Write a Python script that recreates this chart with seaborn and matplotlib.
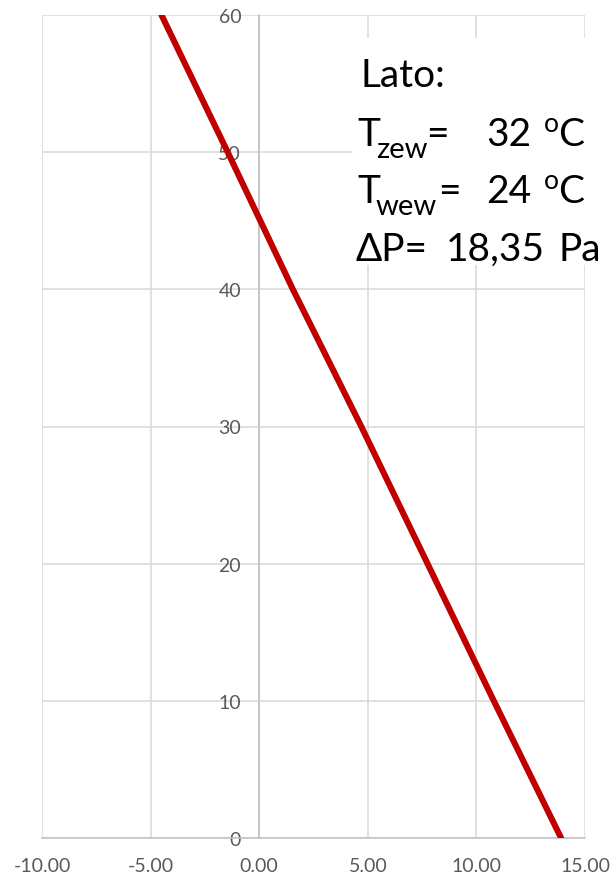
import matplotlib
matplotlib.use("Agg")
import matplotlib.pyplot as plt
from matplotlib.patches import Rectangle
import seaborn as sns
import pandas as pd

# ---- data ----
height_m = [0, 10, 20, 30, 40, 50, 60]
pressure_pa = [13.90, 10.80, 7.75, 4.70, 1.55, -1.45, -4.50]
x_ticks = [-10, -5, 0, 5, 10, 15]
x_tick_labels = ["-10.00", "-5.00", "0.00", "5.00", "10.00", "15.00"]
y_ticks = [0, 10, 20, 30, 40, 50, 60]
season_label = "Lato:"
t_out = "32"
t_in = "24"
delta_p = "18,35"

sns.set_style("white")
plt.rcParams["font.family"] = ["Lato", "DejaVu Sans"]

df = pd.DataFrame({"x": pressure_pa, "y": height_m})

fig = plt.figure(figsize=(6.13, 8.79), dpi=100)
ax = fig.add_axes([42 / 613, 40 / 879, (585 - 42) / 613, (839 - 16) / 879])

sns.lineplot(data=df, x="x", y="y", sort=False, estimator=None,
             color="#c00000", linewidth=4.4, ax=ax, zorder=5)

ax.set_xlim(-10, 15)
ax.set_ylim(0, 60)
ax.set_xticks(x_ticks)
ax.set_xticklabels(x_tick_labels)
ax.set_yticks(y_ticks)
ax.set_xlabel("")
ax.set_ylabel("")

ax.grid(True, color="#d9d9d9", linewidth=1.1)
ax.set_axisbelow(True)

for s in ["top", "right"]:
    ax.spines[s].set_visible(False)
ax.spines["left"].set_position(("data", 0))
ax.spines["left"].set_color("#bfbfbf")
ax.spines["left"].set_linewidth(1.1)
ax.spines["bottom"].set_color("#bfbfbf")
ax.spines["bottom"].set_linewidth(1.1)

ax.tick_params(axis="both", length=0, colors="#595959", labelsize=14)
ax.tick_params(axis="x", pad=14)
ax.tick_params(axis="y", pad=13)

# white text box covering gridlines
fig.patches.append(Rectangle((352 / 613, 1 - 266 / 879), (613 - 352) / 613,
                             (266 - 39) / 879, transform=fig.transFigure,
                             facecolor="white", edgecolor="none", zorder=10))

# text segments: (text, left px, baseline px, size)
segments = [
    (season_label, 360, 87, 28),
    ("T", 357, 146, 28), ("zew", 376, 158, 21), ("=", 426, 146, 28),
    (t_out, 486, 146, 28), ("o", 544, 132, 19), ("C", 558, 146, 28),
    ("T", 357, 203, 28), ("wew", 376, 215, 21), ("=", 438, 203, 28),
    (t_in, 486, 203, 28), ("o", 544, 189, 19), ("C", 558, 203, 28),
    ("\u0394P=", 356, 261, 28), (delta_p, 446, 261, 28), ("Pa", 558, 261, 28),
]
for txt, px, py, fs in segments:
    fig.text(px / 613, 1 - py / 879, txt, fontsize=fs, color="black",
             ha="left", va="baseline", zorder=11)

fig.savefig("out.png", dpi=100)
